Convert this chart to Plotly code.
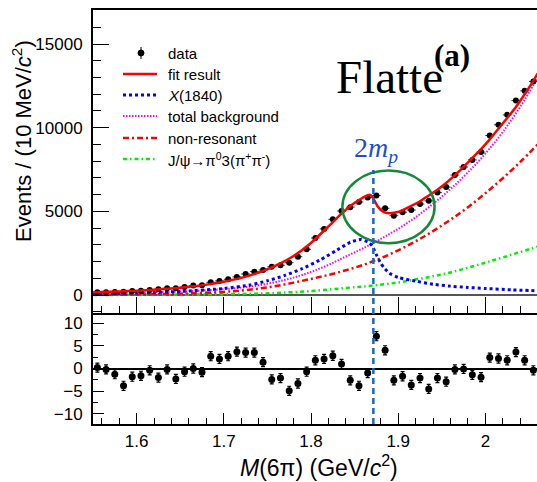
import plotly.graph_objects as go

# ---------------- data ----------------
bin_centers = [1.555, 1.565, 1.575, 1.585, 1.595, 1.605, 1.615, 1.625, 1.635, 1.645,
               1.655, 1.665, 1.675, 1.685, 1.695, 1.705, 1.715, 1.725, 1.735, 1.745,
               1.755, 1.765, 1.775, 1.785, 1.795, 1.805, 1.815, 1.825, 1.835, 1.845,
               1.855, 1.865, 1.875, 1.885, 1.895, 1.905, 1.915, 1.925, 1.935, 1.945,
               1.955, 1.965, 1.975, 1.985, 1.995, 2.005, 2.015, 2.025, 2.035, 2.045,
               2.055]
data_counts = [160, 160, 180, 200, 240, 260, 300, 340, 400, 400,
               480, 560, 580, 760, 840, 940, 1080, 1256, 1395, 1495,
               1690, 1775, 1930, 2290, 2730, 3410, 3950, 4525, 5020, 5250,
               5560, 5820, 5940, 5185, 4740, 4945, 5080, 5440, 5630, 6120,
               6450, 7170, 7650, 8075, 8540, 9530, 10170, 10765, 11620, 12200,
               12760]
residuals = [0.2, -0.2, -1.25, -3.8, -1.8, -1.6, -0.4, -2.0, -0.2, -2.3,
             -0.7, 0.0, -0.8, 2.7, 2.1, 2.7, 3.7, 3.5, 3.5, 1.4,
             -2.4, -2.1, -4.9, -3.3, -0.7, 1.8, 2.1, 2.8, 1.0, -2.6,
             -3.8, -1.0, 7.1, 4.0, -2.6, -1.7, -3.6, -2.1, -4.5, -2.1,
             -2.9, -0.2, -0.1, -1.4, -1.9, 2.4, 2.2, 1.8, 3.6, 1.8,
             -0.4]

fit_x = [1.550, 1.560, 1.570, 1.580, 1.590, 1.600, 1.620, 1.640, 1.660, 1.680,
         1.700, 1.720, 1.740, 1.760, 1.780, 1.800, 1.820, 1.835, 1.845, 1.855,
         1.862, 1.867, 1.870, 1.873, 1.876, 1.880, 1.885, 1.890, 1.895, 1.905,
         1.915, 1.925, 1.935, 1.945, 1.955, 1.965, 1.975, 1.985, 1.995, 2.005,
         2.015, 2.025, 2.035, 2.045, 2.055, 2.060]
fit_y = [170, 180, 195, 212, 232, 255, 315, 390, 487, 620,
         795, 1025, 1340, 1770, 2330, 3110, 4100, 4860, 5320, 5680,
         5900, 5990, 5900, 5620, 5330, 5080, 4930, 4890, 4910, 5060,
         5320, 5600, 5950, 6290, 6690, 7160, 7660, 8190, 8720, 9300,
         9940, 10580, 11240, 12000, 12800, 13250]

sig_x = [1.55, 1.60, 1.65, 1.70, 1.73, 1.75, 1.77, 1.79, 1.81, 1.83,
         1.845, 1.857, 1.865, 1.870, 1.875, 1.880, 1.885, 1.890, 1.900, 1.920,
         1.940, 1.960, 1.980, 2.000, 2.030, 2.060]
sig_y = [60, 120, 210, 390, 600, 850, 1170, 1580, 2080, 2690,
         3150, 3320, 3170, 2950, 2400, 1900, 1550, 1300, 1050, 830,
         640, 530, 450, 390, 310, 250]

comp_x = [1.55, 1.60, 1.65, 1.70, 1.72, 1.74, 1.76, 1.78, 1.80, 1.82, 1.84,
          1.86, 1.88, 1.90, 1.92, 1.94, 1.96, 1.98, 2.00, 2.02, 2.04, 2.06]
bkg_y = [80, 130, 210, 350, 440, 580, 780, 1040, 1380, 1800, 2300,
         2800, 3350, 3950, 4650, 5450, 6330, 7330, 8450, 9750, 11250, 13000]
nonres_y = [15, 35, 80, 185, 265, 380, 540, 740, 960, 1200, 1480,
            1800, 2200, 2670, 3210, 3820, 4500, 5250, 6080, 6980, 7950, 9000]

jpsi_x = [1.55, 1.60, 1.65, 1.70, 1.75, 1.80, 1.84, 1.87, 1.90, 1.93, 1.96, 1.99, 2.02, 2.06]
jpsi_y = [5, 10, 25, 50, 100, 240, 420, 560, 750, 1020, 1350, 1780, 2250, 2890]

two_mp = 1.8715
ellipse_x = [1.836, 1.9417]
ellipse_y = [3095, 7440]

legend_labels = ["data", "fit result", "<i>X</i>(1840)", "total background",
                 "non-resonant", "J/\u03c8\u2192\u03c0<sup>0</sup>3(\u03c0<sup>+</sup>\u03c0<sup>-</sup>)"]

# ---------------- geometry ----------------
W, H = 537, 482
ML, MR, MT, MB = 93, 0, 10, 58
PW = W - ML - MR
PH = H - MT - MB


def fx(px):
    return (px - ML) / PW


def fy(py):
    return (H - MB - py) / PH


split = fy(313)

RED = "#ff0000"
BLUE = "#0000ff"
MAG = "#ff00ff"
GREEN = "#00ee00"

styles = {
    "fit": dict(color=RED, width=2.5),
    "sig": dict(color=BLUE, width=3, dash="3px,3px"),
    "bkg": dict(color=MAG, width=2, dash="1.5px,1.5px"),
    "nonres": dict(color=RED, width=2.5, dash="6px,3px,2px,3px"),
    "jpsi": dict(color=GREEN, width=2.5, dash="4px,3px,1.5px,3px"),
}

fig = go.Figure()

fig.add_trace(go.Scatter(x=jpsi_x, y=jpsi_y, mode="lines", line=dict(**styles["jpsi"], shape="spline"),
                         xaxis="x", yaxis="y", showlegend=False))
fig.add_trace(go.Scatter(x=comp_x, y=nonres_y, mode="lines", line=dict(**styles["nonres"], shape="spline"),
                         xaxis="x", yaxis="y", showlegend=False))
fig.add_trace(go.Scatter(x=comp_x, y=bkg_y, mode="lines", line=dict(**styles["bkg"], shape="spline"),
                         xaxis="x", yaxis="y", showlegend=False))
fig.add_trace(go.Scatter(x=sig_x, y=sig_y, mode="lines", line=dict(**styles["sig"], shape="spline", smoothing=0.6),
                         xaxis="x", yaxis="y", showlegend=False))
fig.add_trace(go.Scatter(x=bin_centers, y=data_counts, mode="markers",
                         marker=dict(color="black", size=6),
                         error_y=dict(type="sqrt", color="black", thickness=1, width=0),
                         error_x=dict(type="constant", value=0.005, color="#333333", thickness=1, width=0),
                         xaxis="x", yaxis="y", showlegend=False))
fig.add_trace(go.Scatter(x=fit_x, y=fit_y, mode="lines", line=dict(**styles["fit"], shape="spline", smoothing=0.5),
                         xaxis="x", yaxis="y", showlegend=False))

fig.add_trace(go.Scatter(x=bin_centers, y=residuals, mode="markers",
                         marker=dict(color="black", size=7),
                         error_y=dict(type="constant", value=1, color="black", thickness=1.2, width=2),
                         xaxis="x2", yaxis="y2", showlegend=False))

xrange = [1.55, 1.55 + PW / 872.0]
tickfont = dict(family="Liberation Sans, Arial, sans-serif", size=17, color="black")

common_x = dict(range=xrange, showgrid=False, zeroline=False, showline=True, linecolor="black",
                linewidth=2, ticks="inside", tickcolor="black", tickwidth=1,
                tick0=1.6, dtick=0.1, tickfont=tickfont)

fig.update_layout(
    width=W, height=H,
    margin=dict(l=ML, r=MR, t=MT, b=MB),
    paper_bgcolor="white", plot_bgcolor="white",
    xaxis=dict(**common_x, domain=[0, 1], anchor="y", mirror=True, showticklabels=False, ticklen=16,
               minor=dict(dtick=0.02, ticklen=7, ticks="inside", tickcolor="black", tickwidth=1)),
    yaxis=dict(domain=[split, 1], anchor="x", range=[-1076, 17032], showgrid=False,
               zeroline=True, zerolinecolor="#555555", zerolinewidth=2,
               showline=True, linecolor="black", linewidth=2, mirror=False,
               ticks="inside", ticklen=16, tickcolor="black", tickwidth=1, tick0=0, dtick=5000,
               tickformat="d",
               minor=dict(dtick=1000, ticklen=8, ticks="inside", tickcolor="black", tickwidth=1),
               tickfont=tickfont, ticklabelstandoff=5),
    xaxis2=dict(**common_x, domain=[0, 1], anchor="y2", mirror=False, showticklabels=True, ticklen=11,
                minor=dict(dtick=0.02, ticklen=6, ticks="inside", tickcolor="black", tickwidth=1),
                ticklabelstandoff=1),
    yaxis2=dict(domain=[0, split], anchor="x2", range=[-12.2, 12.2], showgrid=False,
                zeroline=True, zerolinecolor="black", zerolinewidth=1.5,
                showline=True, linecolor="black", linewidth=2, mirror=False,
                ticks="inside", ticklen=11, tickcolor="black", tickwidth=1, tick0=0, dtick=5,
                minor=dict(dtick=2.5, ticklen=5, ticks="inside", tickcolor="black", tickwidth=1),
                tickfont=tickfont, ticklabelstandoff=5),
)

# ellipse and 2m_p line
fig.add_shape(type="circle", xref="x", yref="y", x0=ellipse_x[0], x1=ellipse_x[1],
              y0=ellipse_y[0], y1=ellipse_y[1], line=dict(color="#148a38", width=2.5))
fig.add_shape(type="line", xref="x", yref="paper", x0=two_mp, x1=two_mp, y0=0, y1=fy(170),
              line=dict(color="#1a66c8", width=2.5, dash="6px,4px"))

# legend (manual)
leg_text_x = fx(166)
leg_y = [53, 74, 95, 116, 138, 159]
sample_x0, sample_x1 = fx(123), fx(157)
sample_styles = [None, "fit", "sig", "bkg", "nonres", "jpsi"]
for lbl, ypx, st in zip(legend_labels, leg_y, sample_styles):
    fig.add_annotation(x=leg_text_x, y=fy(ypx), xref="paper", yref="paper", text=lbl,
                       showarrow=False, xanchor="left", yanchor="middle",
                       font=dict(family="Liberation Sans, Arial, sans-serif", size=15, color="black"))
    if st is not None:
        fig.add_shape(type="line", xref="paper", yref="paper", x0=sample_x0, x1=sample_x1,
                      y0=fy(ypx), y1=fy(ypx), line=styles[st])
# data symbol in legend
fig.add_shape(type="line", xref="paper", yref="paper", x0=fx(141), x1=fx(141), y0=fy(47), y1=fy(59),
              line=dict(color="black", width=1))
fig.add_shape(type="circle", xref="paper", yref="paper", x0=fx(138), x1=fx(144), y0=fy(56), y1=fy(50),
              line=dict(color="black", width=1), fillcolor="black")

# texts
fig.add_annotation(x=fx(334), y=fy(77), xref="paper", yref="paper", text="Flatte",
                   showarrow=False, xanchor="left", yanchor="middle",
                   font=dict(family="Liberation Serif, Times New Roman, serif", size=47, color="black"))
fig.add_annotation(x=fx(452), y=fy(55), xref="paper", yref="paper", text="<b>(a)</b>",
                   showarrow=False, xanchor="center", yanchor="middle",
                   font=dict(family="Liberation Serif, Times New Roman, serif", size=31, color="black"))
fig.add_annotation(x=fx(376), y=fy(149), xref="paper", yref="paper",
                   text="2<i>m</i><sub><i>p</i></sub>",
                   showarrow=False, xanchor="center", yanchor="middle",
                   font=dict(family="Liberation Serif, Times New Roman, serif", size=28, color="#1a4fd0"))

# axis titles
fig.add_annotation(x=fx(22), y=fy(141), xref="paper", yref="paper",
                   text="Events / (10 MeV/<i>c</i><sup>2</sup>)", textangle=-90,
                   showarrow=False, xanchor="center", yanchor="middle",
                   font=dict(family="Liberation Sans, Arial, sans-serif", size=22, color="black"))
fig.add_annotation(x=fx(319), y=fy(466), xref="paper", yref="paper",
                   text="<i>M</i>(6\u03c0) (GeV/<i>c</i><sup>2</sup>)",
                   showarrow=False, xanchor="center", yanchor="middle",
                   font=dict(family="Liberation Sans, Arial, sans-serif", size=23, color="black"))

fig.write_html("out.html")
